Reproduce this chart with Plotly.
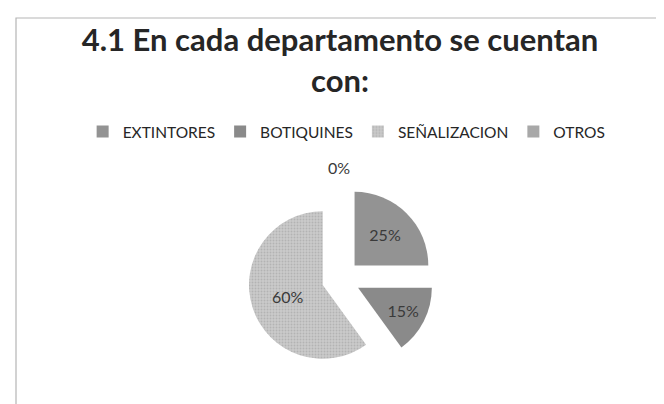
import plotly.graph_objects as go

categories = ["EXTINTORES", "BOTIQUINES", "SEÑALIZACION", "OTROS"]
values = [25, 15, 60, 0]
colors = ["#939393", "#8a8a8a", "#cbcbcb", "#a8a8a8"]
title_text = "4.1 En cada departamento se cuentan<br>con:"

dom_x = [0.3615, 0.6415]
dom_y = [0.099, 0.559]

fig = go.Figure()
fig.add_trace(go.Pie(
    labels=categories,
    values=values,
    sort=False,
    direction="clockwise",
    rotation=0,
    pull=[0.26, 0.26, 0.26, 0.26],
    marker=dict(
        colors=colors,
        line=dict(width=0),
        pattern=dict(
            shape=["", "", ".", ""],
            fgcolor="#b3b3b3",
            bgcolor=colors,
            size=3,
            solidity=0.3,
        ),
    ),
    textinfo="percent",
    texttemplate="%{percent:.0%}",
    textposition=["inside", "inside", "inside", "none"],
    insidetextorientation="horizontal",
    textfont=dict(family="Lato", size=16, color="#3a3a3a"),
    domain=dict(x=dom_x, y=dom_y),
    hoverinfo="label+percent",
    showlegend=True,
))

# label of the zero-valued slice, placed above the pie like the original
total = sum(values)
fig.add_annotation(
    text=f"{round(100 * values[3] / total)}%",
    xref="paper", yref="paper",
    x=(dom_x[0] + dom_x[1]) / 2 - 0.003, y=dom_y[1] + 0.045,
    xanchor="center", yanchor="middle",
    showarrow=False,
    font=dict(family="Lato", size=16, color="#3a3a3a"),
)

fig.update_layout(
    width=664, height=404,
    margin=dict(l=0, r=0, t=0, b=0),
    paper_bgcolor="white",
    plot_bgcolor="white",
    title=dict(
        text=title_text,
        x=0.5, xanchor="center",
        y=0.893, yanchor="top", yref="container",
        font=dict(family="Lato", size=31, color="#262626", weight="bold"),
    ),
    legend=dict(
        orientation="h",
        x=0.51, xanchor="center",
        y=0.693, yanchor="middle",
        font=dict(family="Lato", size=15.5, color="#262626"),
        itemwidth=30,
        traceorder="normal",
    ),
    shapes=[dict(
        type="rect", xref="paper", yref="paper",
        x0=8 / 664, x1=661 / 664, y0=-0.02, y1=1 - 10 / 404,
        line=dict(color="#b5b5b5", width=1.2),
        fillcolor="rgba(0,0,0,0)",
        layer="below",
    )],
)

fig.write_html("out.html")
